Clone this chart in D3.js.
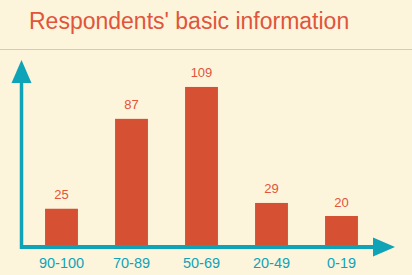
<!DOCTYPE html>
<html>
<head>
<meta charset="utf-8">
<script src="https://cdn.jsdelivr.net/npm/d3@7"></script>
<style>
  html, body { margin: 0; padding: 0; background: #fdf4dc; }
  svg { display: block; font-family: "Liberation Sans", Arial, sans-serif; }
</style>
</head>
<body>
<div id="chart"></div>
<script>
const categories = ['90-100', '70-89', '50-69', '20-49', '0-19']
const counts = [25, 87, 109, 29, 20]
const title = "Respondents' basic information"

const W = 412
const H = 275
const axisColor = '#0fa3b8'
const barColor = '#d65034'
const textColor = '#e0553b'

const svg = d3.select('#chart').append('svg')
  .attr('width', W)
  .attr('height', H)

svg.append('rect')
  .attr('width', W)
  .attr('height', H)
  .attr('fill', '#fdf4dc')

svg.append('text')
  .attr('x', 29)
  .attr('y', 28.5)
  .attr('fill', textColor)
  .attr('font-size', 23)
  .text(title)

svg.append('line')
  .attr('x1', 0).attr('x2', W)
  .attr('y1', 49.5).attr('y2', 49.5)
  .attr('stroke', '#e6cb85')
  .attr('stroke-width', 1)

let x = d3.scaleBand()
  .domain(categories)
  .range([26.5, 376.5])
  .paddingInner(0.53)
  .paddingOuter(0.265)

let y = d3.scaleLinear()
  .domain([0, 120])
  .range([245, 71])

// bars
let bar = svg.selectAll('.bar')
  .data(counts)
  .enter()
  .append('g')
  .attr('class', 'bar')
bar.append('rect')
  .attr('x', (d, i) => x(categories[i]))
  .attr('y', d => y(d))
  .attr('width', x.bandwidth())
  .attr('height', d => y(0) - y(d))
  .attr('fill', barColor)
bar.append('text')
  .text(d => d)
  .attr('x', (d, i) => x(categories[i]) + x.bandwidth() / 2)
  .attr('y', d => y(d) - 9.5)
  .attr('text-anchor', 'middle')
  .attr('fill', textColor)
  .attr('font-size', 13)

// category labels
svg.selectAll('.cat')
  .data(categories)
  .enter()
  .append('text')
  .attr('class', 'cat')
  .text(d => d)
  .attr('x', d => x(d) + x.bandwidth() / 2)
  .attr('y', 268)
  .attr('text-anchor', 'middle')
  .attr('fill', axisColor)
  .attr('font-size', 14.5)

// axes with arrow heads
svg.append('line')
  .attr('x1', 21.5).attr('x2', 21.5)
  .attr('y1', 249).attr('y2', 80)
  .attr('stroke', axisColor)
  .attr('stroke-width', 3.5)
svg.append('path')
  .attr('d', 'M21.5,60 L31.5,83 L11.5,83 Z')
  .attr('fill', axisColor)

svg.append('line')
  .attr('x1', 20).attr('x2', 376)
  .attr('y1', 247).attr('y2', 247)
  .attr('stroke', axisColor)
  .attr('stroke-width', 4)
svg.append('path')
  .attr('d', 'M395,247 L373,237.5 L373,256.5 Z')
  .attr('fill', axisColor)
</script>
</body>
</html>
